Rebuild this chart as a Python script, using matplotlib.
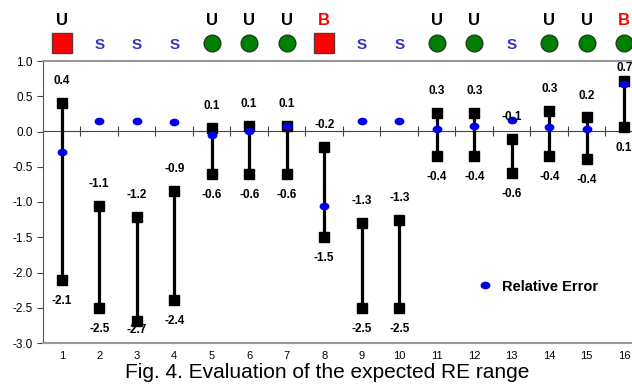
import matplotlib.pyplot as plt
from matplotlib.markers import MarkerStyle
from matplotlib.transforms import Affine2D

plt.rcParams['font.family'] = ['Liberation Sans', 'DejaVu Sans']
plt.rcParams['axes.unicode_minus'] = False

# data
cases = list(range(1, 17))
re_upper = [0.40, -1.06, -1.21, -0.84, 0.05, 0.08, 0.08, -0.22, -1.30, -1.26, 0.26, 0.26, -0.11, 0.29, 0.20, 0.71]
re_lower = [-2.10, -2.50, -2.69, -2.39, -0.60, -0.60, -0.60, -1.49, -2.50, -2.50, -0.35, -0.35, -0.59, -0.35, -0.39, 0.07]
upper_txt = ['0.4', '-1.1', '-1.2', '-0.9', '0.1', '0.1', '0.1', '-0.2', '-1.3', '-1.3', '0.3', '0.3', '-0.1', '0.3', '0.2', '0.7']
lower_txt = ['-2.1', '-2.5', '-2.7', '-2.4', '-0.6', '-0.6', '-0.6', '-1.5', '-2.5', '-2.5', '-0.4', '-0.4', '-0.6', '-0.4', '-0.4', '0.1']
rel_error = [-0.29, 0.15, 0.15, 0.13, -0.05, 0.01, 0.08, -1.06, 0.15, 0.15, 0.04, 0.08, 0.16, 0.06, 0.03, 0.67]
status = ['U', '', '', '', 'U', 'U', 'U', 'B', '', '', 'U', 'U', '', 'U', 'U', 'B']
symbol = ['sq', 'S', 'S', 'S', 'ci', 'ci', 'ci', 'sq', 'S', 'S', 'ci', 'ci', 'S', 'ci', 'ci', 'ci']

fig = plt.figure(figsize=(6.32, 3.85), dpi=100)
ax = fig.add_axes([43 / 632, 1 - 343 / 385, 600 / 632, 282 / 385])

# range bars
ax.vlines(cases, re_lower, re_upper, color='black', linewidth=2.3, zorder=2)
ax.plot(cases, re_upper, 's', color='black', markersize=6.5, linestyle='none', zorder=3)
ax.plot(cases, re_lower, 's', color='black', markersize=6.5, linestyle='none', zorder=3)

dot = MarkerStyle('o', transform=Affine2D().scale(1.35, 1.0))
ax.plot(cases, rel_error, marker=dot, color='#0000ee', markersize=4.5, linestyle='none',
        zorder=4, label='Relative Error')

# value labels
for x, hi, lo, ht, lt in zip(cases, re_upper, re_lower, upper_txt, lower_txt):
    ax.text(x, min(hi + 0.31, 0.9), ht, ha='center', va='center', fontsize=8.5,
            fontweight='bold', zorder=5)
    ax.text(x, max(lo - 0.3, -2.82), lt, ha='center', va='center', fontsize=8.5,
            fontweight='bold', zorder=5)

# symbol row above the plot
for x, st, sy in zip(cases, status, symbol):
    if sy == 'sq':
        ax.plot(x, 1.255, 's', color='#ff0000', markeredgecolor='#663333', markersize=15,
                clip_on=False)
    elif sy == 'ci':
        ax.plot(x, 1.255, 'o', color='#008000', markeredgecolor='#1a3d1a', markersize=12,
                clip_on=False)
    else:
        ax.text(x, 1.23, 'S', color='#3333cc', ha='center', va='center', fontsize=11,
                fontweight='bold', clip_on=False)
    if st:
        ax.text(x, 1.57, st, color='#ff0000' if st == 'B' else 'black', ha='center',
                va='center', fontsize=12, fontweight='bold', clip_on=False)

ax.set_xlim(0.5, 16.5)
ax.set_ylim(-3.0, 1.0)
ax.set_yticks([-3.0, -2.5, -2.0, -1.5, -1.0, -0.5, 0.0, 0.5, 1.0])
ax.set_yticklabels([f'{v:.1f}' for v in ax.get_yticks()], fontsize=8.5)
ax.set_xticks(cases)
ax.set_xticklabels([str(c) for c in cases], fontsize=8)
ax.tick_params(axis='x', length=0, pad=6)
ax.tick_params(axis='y', length=4, color='#444444')

for side in ['top', 'bottom', 'right']:
    ax.spines[side].set_color('#999999')
    ax.spines[side].set_linewidth(1.5)
ax.spines['left'].set_color('#555555')

# zero line with category separators
zero = ax.secondary_xaxis(0.75)
zero.set_xticks([c + 0.5 for c in cases[:-1]])
zero.tick_params(direction='inout', length=7, labelbottom=False, labeltop=False,
                 color='#444444')
zero.spines['bottom'].set_color('#444444')
zero.spines['top'].set_color('#444444')

ax.legend(loc='center left', bbox_to_anchor=(0.70, 0.20), frameon=False,
          handletextpad=0.6, handlelength=1.2, prop={'weight': 'bold', 'size': 10.5})

fig.text(0.517, 0.033, 'Fig. 4. Evaluation of the expected RE range', ha='center',
         va='center', fontsize=15)

fig.savefig('out.png', dpi=100)
